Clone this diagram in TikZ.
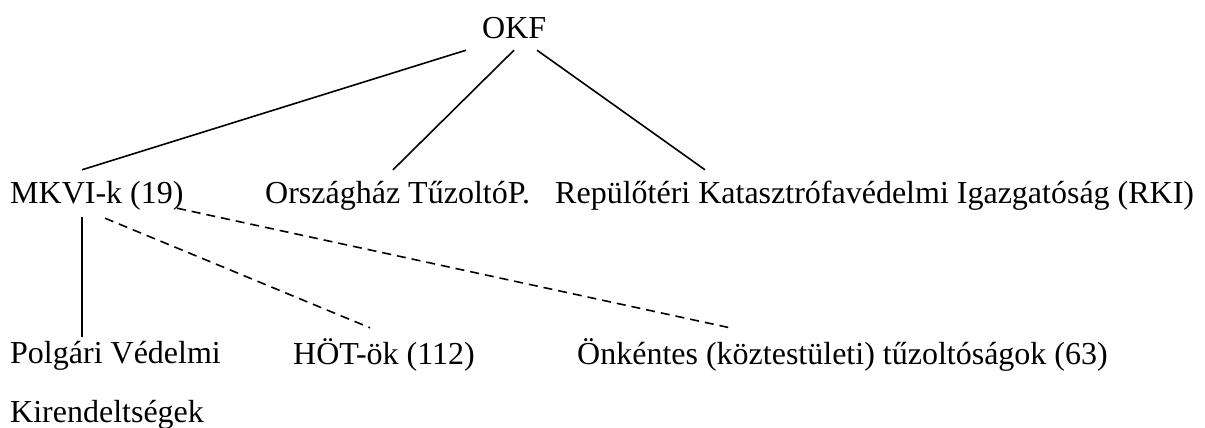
\documentclass[tikz,border=0pt]{standalone}
\usepackage{fontspec}
\setmainfont{Liberation Serif}
\tikzset{
  unit/.style={inner sep=0pt, anchor=base west, text height=22pt, text depth=7pt,
    font=\fontsize{32}{38}\selectfont},
  tie/.style={line width=1.6pt},
  loose/.style={line width=1.6pt, dash pattern=on 9pt off 6pt}
}
\begin{document}
\begin{tikzpicture}[x=1pt,y=-1pt]
  \useasboundingbox (0,0) rectangle (1205,428);
  % levels
  \node[unit] (okf) at (482,39) {OKF};
  \node[unit] (mkvi) at (10,203) {MKVI-k (19)};
  \node[unit] (orsz) at (265,203) {Országház TűzoltóP.};
  \node[unit] (rki) at (555,203) {Repülőtéri Katasztrófavédelmi Igazgatóság (RKI)};
  \node[unit] (polg) at (10,363) {Polgári Védelmi};
  \node[unit] (kir) at (10,422) {Kirendeltségek};
  \node[unit] (hot) at (293,364) {HÖT-ök (112)};
  \node[unit] (onk) at (577,364) {Önkéntes (köztestületi) tűzoltóságok (63)};
  % ties
  \foreach \a/\n/\b in {-16/mkvi/72,32/orsz/128,55/rki/150}
    \draw[tie] ([shift={(\a,4)}]okf.south west) -- ([shift={(\b,-11)}]\n.north west);
  \draw[tie] ([shift={(72,7)}]mkvi.south west) -- ([shift={(72,-4)}]polg.north west);
  \draw[loose] ([shift={(95,8)}]mkvi.south west) -- ([shift={(77,-14)}]hot.north west);
  \draw[loose] ([shift={(167,-2)}]mkvi.south west) -- ([shift={(153,-14)}]onk.north west);
\end{tikzpicture}
\end{document}
